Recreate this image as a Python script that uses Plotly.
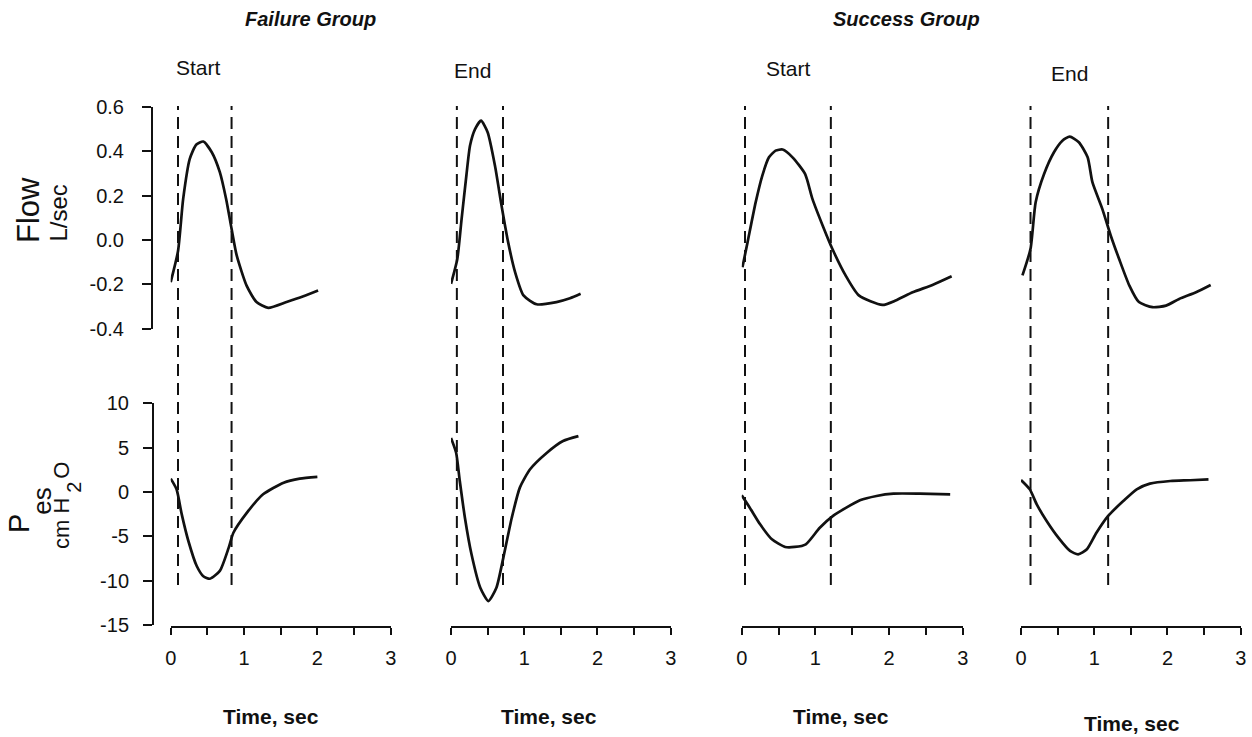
import plotly.graph_objects as go

W, H = 1252, 737
FONT = "Liberation Sans, Arial, sans-serif"

# Failure group, start of trial
t_flow_fs = [0.0, 0.10, 0.17, 0.26, 0.35, 0.445, 0.56, 0.67, 0.755, 0.83, 0.90, 1.035, 1.17, 1.33, 1.58, 1.81, 2.01]
flow_fs = [-0.19, -0.05, 0.185, 0.365, 0.43, 0.443, 0.395, 0.305, 0.185, 0.05, -0.07, -0.206, -0.28, -0.306, -0.28, -0.254, -0.228]
t_pes_fs = [0.0, 0.08, 0.15, 0.24, 0.355, 0.445, 0.535, 0.67, 0.79, 0.855, 1.04, 1.26, 1.54, 1.76, 2.0]
pes_fs = [1.5, 0.3, -2.5, -5.5, -8.35, -9.5, -9.78, -8.9, -6.3, -4.6, -2.33, -0.26, 1.05, 1.5, 1.7]

# Failure group, end of trial
t_flow_fe = [0.0, 0.086, 0.145, 0.21, 0.26, 0.33, 0.41, 0.50, 0.60, 0.69, 0.78, 0.875, 0.99, 1.17, 1.44, 1.625, 1.77]
flow_fe = [-0.198, -0.086, 0.095, 0.29, 0.425, 0.50, 0.537, 0.485, 0.335, 0.155, -0.01, -0.145, -0.25, -0.29, -0.28, -0.263, -0.243]
t_pes_fe = [0.0, 0.07, 0.12, 0.19, 0.28, 0.40, 0.51, 0.62, 0.715, 0.83, 0.94, 1.08, 1.31, 1.53, 1.74]
pes_fe = [6.1, 4.43, 1.24, -2.9, -7.03, -10.8, -12.3, -10.8, -7.4, -2.9, 0.49, 2.56, 4.43, 5.75, 6.3]

# Success group, start of trial
t_flow_ss = [0.01, 0.08, 0.19, 0.28, 0.37, 0.46, 0.555, 0.69, 0.86, 0.96, 1.10, 1.23, 1.41, 1.59, 1.91, 2.09, 2.32, 2.59, 2.85]
flow_ss = [-0.123, -0.01, 0.17, 0.29, 0.372, 0.402, 0.407, 0.372, 0.297, 0.185, 0.064, -0.04, -0.16, -0.25, -0.293, -0.273, -0.236, -0.203, -0.164]
t_pes_ss = [0.0, 0.11, 0.25, 0.41, 0.59, 0.72, 0.87, 1.06, 1.24, 1.42, 1.605, 1.83, 2.06, 2.42, 2.83]
pes_ss = [-0.37, -1.77, -3.65, -5.34, -6.2, -6.2, -5.9, -4.03, -2.7, -1.77, -0.94, -0.45, -0.19, -0.19, -0.26]

# Success group, end of trial
t_flow_se = [0.02, 0.13, 0.20, 0.315, 0.45, 0.565, 0.665, 0.79, 0.91, 0.975, 1.11, 1.225, 1.34, 1.48, 1.61, 1.795, 1.98, 2.16, 2.39, 2.59]
flow_se = [-0.16, -0.04, 0.17, 0.297, 0.395, 0.447, 0.465, 0.44, 0.372, 0.26, 0.14, 0.02, -0.086, -0.206, -0.28, -0.303, -0.296, -0.266, -0.236, -0.203]
t_pes_se = [0.0, 0.12, 0.215, 0.35, 0.51, 0.67, 0.78, 0.90, 1.03, 1.19, 1.40, 1.58, 1.76, 2.04, 2.31, 2.56]
pes_se = [1.35, 0.3, -1.4, -3.27, -5.15, -6.65, -7.03, -6.46, -4.6, -2.7, -1.0, 0.3, 0.94, 1.24, 1.32, 1.43]

# inspiratory start / end markers (sec)
marks_fs = [0.10, 0.83]
marks_fe = [0.08, 0.71]
marks_ss = [0.045, 1.21]
marks_se = [0.13, 1.19]

panel_labels = ["Start", "End", "Start", "End"]
group_titles = ["Failure Group", "Success Group"]
x_ticks = [0, 0.5, 1, 1.5, 2, 2.5, 3]
x_ticktext = ["0", "", "1", "", "2", "", "3"]
flow_ticks = [-0.4, -0.2, 0.0, 0.2, 0.4, 0.6]
flow_ticktext = ["-0.4", "-0.2", "0.0", "0.2", "0.4", "0.6"]
pes_ticks = [-15, -10, -5, 0, 5, 10]
pes_ticktext = ["-15", "-10", "-5", "0", "5", "10"]


def px(x):
    return x / W


def py(y):
    return 1 - y / H


panels = [
    (t_flow_fs, flow_fs, t_pes_fs, pes_fs, marks_fs),
    (t_flow_fe, flow_fe, t_pes_fe, pes_fe, marks_fe),
    (t_flow_ss, flow_ss, t_pes_ss, pes_ss, marks_ss),
    (t_flow_se, flow_se, t_pes_se, pes_se, marks_se),
]
x_domains = [(170.7, 390.7), (451, 670.7), (741.7, 962.7), (1021, 1240.7)]

fig = go.Figure()
line_style = dict(color="#111111", width=2.7, shape="spline", smoothing=0.6)

shapes = []
for i, (tf, fv, tp, pv, marks) in enumerate(panels):
    xa = "x" if i == 0 else f"x{i + 1}"
    fig.add_trace(go.Scatter(x=tf, y=fv, xaxis=xa, yaxis="y2", mode="lines",
                             line=line_style, showlegend=False, hoverinfo="skip"))
    fig.add_trace(go.Scatter(x=tp, y=pv, xaxis=xa, yaxis="y", mode="lines",
                             line=line_style, showlegend=False, hoverinfo="skip"))
    for m in marks:
        shapes.append(dict(type="line", xref=xa, yref="paper", x0=m, x1=m,
                           y0=py(585), y1=py(106),
                           line=dict(color="#111111", width=2, dash="12px,7px")))

layout = dict(
    width=W, height=H, autosize=False,
    margin=dict(l=0, r=0, t=0, b=0, pad=0, autoexpand=False),
    paper_bgcolor="white", plot_bgcolor="rgba(0,0,0,0)",
    font=dict(family=FONT, color="#111111", size=20),
    shapes=shapes,
    yaxis=dict(domain=[py(625), py(403.3)], range=[-15, 10], anchor="free",
               position=px(153), showline=True, linecolor="#111111", linewidth=2,
               tickmode="array", tickvals=pes_ticks, ticktext=pes_ticktext,
               ticks="outside", ticklen=9, tickwidth=2, tickcolor="#111111",
               showgrid=False, zeroline=False, automargin=False,
               ticklabelstandoff=10, tickfont=dict(size=20)),
    yaxis2=dict(domain=[py(328.7), py(106.7)], range=[-0.4, 0.6], anchor="free",
                position=px(152), showline=True, linecolor="#111111", linewidth=2,
                tickmode="array", tickvals=flow_ticks, ticktext=flow_ticktext,
                ticks="outside", ticklen=9, tickwidth=2, tickcolor="#111111",
                showgrid=False, zeroline=False, automargin=False,
                ticklabelstandoff=14, tickfont=dict(size=20)),
)
for i, (d0, d1) in enumerate(x_domains):
    key = "xaxis" if i == 0 else f"xaxis{i + 1}"
    layout[key] = dict(domain=[px(d0), px(d1)], range=[0, 3], anchor="free",
                       position=py(626.7), showline=True, linecolor="#111111",
                       linewidth=2, tickmode="array", tickvals=x_ticks,
                       ticktext=x_ticktext, ticks="outside", ticklen=7,
                       tickwidth=2, tickcolor="#111111", showgrid=False,
                       zeroline=False, automargin=False, ticklabelstandoff=6,
                       tickfont=dict(size=20))
fig.update_layout(**layout)


def note(text, x, y, size, angle=0, xanchor="center"):
    fig.add_annotation(text=text, x=px(x), y=py(y), xref="paper", yref="paper",
                       showarrow=False, textangle=angle, xanchor=xanchor,
                       yanchor="middle", borderpad=0,
                       font=dict(family=FONT, size=size, color="#111111"))


# group titles
note(f"<b><i>{group_titles[0]}</i></b>", 310, 19, 20)
note(f"<b><i>{group_titles[1]}</i></b>", 906, 19, 20)

# panel labels
for lab, (x, y) in zip(panel_labels, [(198, 67), (472.5, 70.5), (788, 68.5), (1069, 73.5)]):
    note(lab, x, y, 21)

# x-axis titles
for x, y in [(222, 716), (500, 716), (792, 716), (1083, 723)]:
    note("<b>Time, sec</b>", x, y, 21, xanchor="left")

# y-axis titles
note("Flow", 28, 210, 31, angle=-90)
note("L/sec", 57.5, 213, 24, angle=-90)
note("P", 19, 524, 29, angle=-90)
note("es", 41.7, 501, 26, angle=-90)
note("cm H", 61.5, 523.5, 22, angle=-90)
note("2", 73.3, 487.5, 20, angle=-90)
note("O", 60.8, 470, 22, angle=-90)

fig.write_html("out.html")
